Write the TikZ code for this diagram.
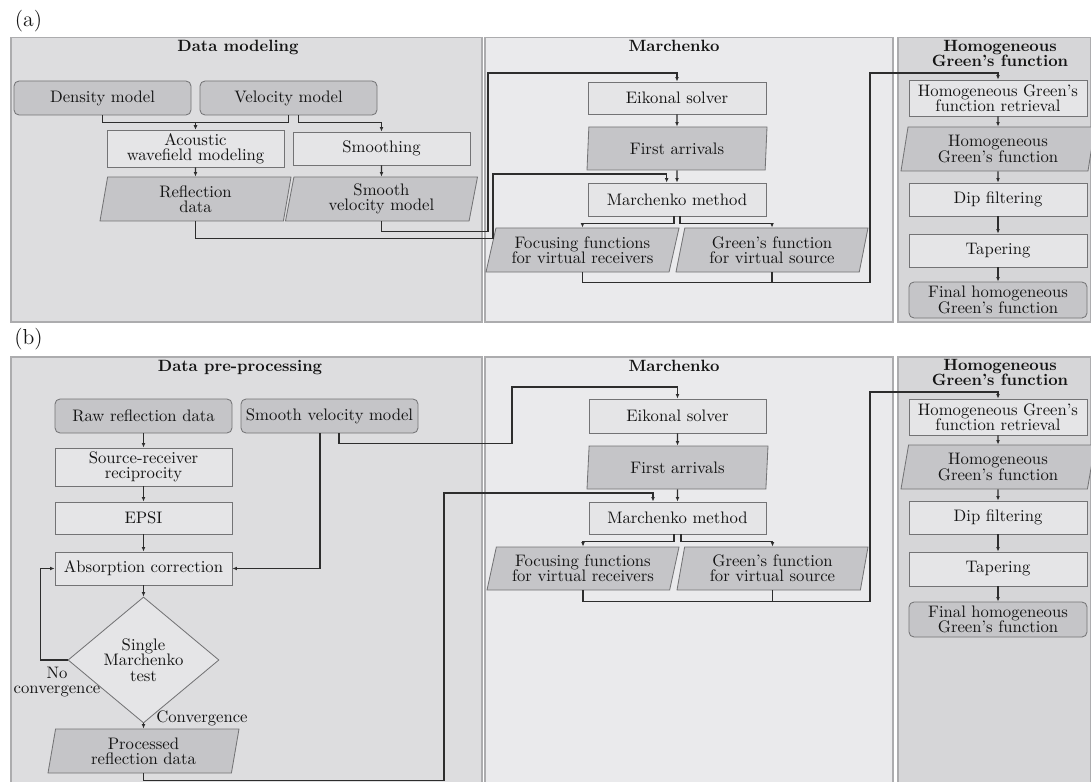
\documentclass[tikz,border=0pt]{standalone}
\usetikzlibrary{shapes.geometric,arrows.meta}
\definecolor{panA}{RGB}{221,221,223}
\definecolor{panB}{RGB}{234,234,236}
\definecolor{panC}{RGB}{214,214,216}
\definecolor{darkbox}{RGB}{197,197,200}
\definecolor{lightbox}{RGB}{229,229,231}
\definecolor{bordc}{RGB}{115,115,117}
\definecolor{panbord}{RGB}{172,172,174}
\definecolor{linec}{RGB}{45,45,45}
\definecolor{txtc}{RGB}{20,20,20}
\begin{document}
\begin{tikzpicture}[x=0.6pt,y=-0.6pt,
  bx/.style={font=\fontsize{10}{9.2}\selectfont, text=txtc, align=center, inner sep=1pt, draw=bordc, line width=0.5pt},
  sz/.style 2 args={minimum width=#1*0.6pt, minimum height=#2*0.6pt},
  procbox/.style={bx, rectangle, fill=lightbox},
  inbox/.style={bx, rectangle, rounded corners=3pt, fill=darkbox},
  databox/.style 2 args={bx, trapezium, trapezium stretches body, trapezium left angle=#1, trapezium right angle=#2, fill=darkbox},
  decbox/.style={bx, diamond, aspect=1.2, fill=lightbox, inner sep=0pt},
  panel/.style={rectangle, draw=panbord, line width=0.9pt, inner sep=0pt, anchor=north west},
  ttl/.style={font=\fontsize{9.8}{9}\selectfont\bfseries, text=txtc, align=center, inner sep=0pt},
  lbl/.style={font=\fontsize{10}{9.2}\selectfont, text=txtc, align=center, inner sep=0pt},
  arr/.style={draw=linec, line width=0.65pt, -{Latex[length=2.7pt,width=2.3pt]}},
  ln/.style={draw=linec, line width=0.65pt}]
\useasboundingbox (0,0) rectangle (1091,782);

% ---------------- (a) ----------------
\node[font=\fontsize{13}{15}\selectfont, text=txtc, inner sep=0pt] (la) at (28.5,21) {(a)};
\node[panel, fill=panA, sz={471}{284}] (pA1) at (10,37) {};
\node[panel, fill=panB, sz={408}{284}] (pA2) at (484,37) {};
\node[panel, fill=panC, sz={193}{284}] (pA3) at (897,37) {};
\node[ttl, anchor=base] (tA1) at (238,52) {Data modeling};
\node[ttl, anchor=base] (tA2) at (674,52) {Marchenko};
\node[ttl] (tA3) at (1000,53) {Homogeneous\\Green's function};

\node[inbox, sz={177}{34}] (dens) at (102.5,98) {Density model};
\node[inbox, sz={177}{34}] (velo) at (288.5,98) {Velocity model};
\node[procbox, sz={177}{37}] (acou) at (195.5,148.5) {Acoustic\\wavefield modeling};
\node[procbox, sz={177}{33}] (smoo) at (381.5,148.5) {Smoothing};
\node[databox={76}{104}, sz={191}{44}] (refl) at (195.5,199) {Reflection\\data};
\node[databox={76}{104}, sz={192}{44}] (svm) at (381.5,199) {Smooth\\velocity model};

\node[procbox, sz={178}{32}] (eik) at (677,98) {Eikonal solver};
\node[databox={83}{97}, sz={180}{43}] (fa) at (677,148.5) {First arrivals};
\node[procbox, sz={178}{33}] (mm) at (677,199.5) {Marchenko method};
\node[databox={72}{108}, sz={193}{44}] (foc) at (582.5,250) {Focusing functions\\for virtual receivers};
\node[databox={74}{106}, sz={192}{44}] (gre) at (772,250) {Green's function\\for virtual source};

\node[procbox, sz={178}{36}] (hret) at (998,98) {Homogeneous Green's\\function retrieval};
\node[databox={77}{103}, sz={194}{44}] (hgf) at (998,149) {Homogeneous\\Green's function};
\node[procbox, sz={178}{33}] (dip) at (998,199.5) {Dip filtering};
\node[procbox, sz={178}{33}] (tap) at (998,250.5) {Tapering};
\node[inbox, sz={178}{36}] (fin) at (998,300) {Final homogeneous\\Green's function};

\draw[arr] (dens.south) -- ++(0,7) -| (acou.north);
\draw[arr] (velo.south) -- ++(0,7) -| (acou.north);
\draw[arr] ([xshift=6pt]velo.south) -- ++(0,7) -| (smoo.north);
\draw[arr] (acou.south) -- (refl.north);
\draw[arr] (smoo.south) -- (svm.north);
\draw[arr] (refl.south) -- ++(0,17) -| (493,174) -| ([xshift=-6.2pt]mm.north);
\draw[arr] (svm.south) -- ++(0,10.5) -| (488,73) -| (eik.north);
\draw[arr] (eik.south) -- (fa.north);
\draw[arr] (fa.south) -- (mm.north);
\draw[arr] ([xshift=-1.8pt]mm.south) -- ++(0,7) -| (foc.north);
\draw[arr] ([xshift=1.8pt]mm.south) -- ++(0,7) -| (gre.north);
\draw[ln] (foc.south) -- ++(0,10) -| (gre.south);
\draw[arr] (gre.south) -- ++(0,10) -| (870,73) -| (hret.north);
\draw[arr] (hret.south) -- (hgf.north);
\draw[arr] (hgf.south) -- (dip.north);
\draw[arr] (dip.south) -- (tap.north);
\draw[arr] (tap.south) -- (fin.north);

% ---------------- (b) ----------------
\node[font=\fontsize{13}{15}\selectfont, text=txtc, inner sep=0pt] (lb) at (28.5,339) {(b)};
\node[panel, fill=panA, sz={471}{440}] (pB1) at (10,356) {};
\node[panel, fill=panB, sz={408}{440}] (pB2) at (484,356) {};
\node[panel, fill=panC, sz={193}{440}] (pB3) at (897,356) {};
\node[ttl, anchor=base] (tB1) at (240,371.5) {Data pre-processing};
\node[ttl, anchor=base] (tB2) at (674,371.5) {Marchenko};
\node[ttl] (tB3) at (1000,372.7) {Homogeneous\\Green's function};

\node[inbox, sz={177}{34}] (raw) at (143.5,416) {Raw reflection data};
\node[inbox, sz={177}{34}] (svm2) at (329.5,416) {Smooth velocity model};
\node[procbox, sz={177}{38}] (srr) at (143.5,467) {Source-receiver\\reciprocity};
\node[procbox, sz={177}{32}] (epsi) at (143.5,518) {EPSI};
\node[procbox, sz={177}{33}] (abs) at (143.5,568.5) {Absorption correction};
\node[decbox, sz={151}{126}] (dia) at (143.5,660) {Single\\Marchenko\\test};
\node[databox={76}{104}, sz={191}{44}] (prd) at (143.5,751) {Processed\\reflection data};
\node[lbl] (lnoc) at (57,682) {No\\convergence};
\node[lbl, anchor=base west] (lconv) at (156,722) {Convergence};

\node[procbox, sz={177}{34}] (eik2) at (677.5,416) {Eikonal solver};
\node[databox={82}{98}, sz={181}{43}] (fa2) at (677.5,467.5) {First arrivals};
\node[procbox, sz={177}{32}] (mm2) at (677.5,518) {Marchenko method};
\node[databox={73}{107}, sz={192}{43}] (foc2) at (583,568.5) {Focusing functions\\for virtual receivers};
\node[databox={76}{104}, sz={191}{43}] (gre2) at (772.5,568.5) {Green's function\\for virtual source};

\node[procbox, sz={178}{36}] (hret2) at (998,417) {Homogeneous Green's\\function retrieval};
\node[databox={76}{104}, sz={194}{44}] (hgf2) at (998,467) {Homogeneous\\Green's function};
\node[procbox, sz={178}{33}] (dip2) at (998,517.5) {Dip filtering};
\node[procbox, sz={178}{34}] (tap2) at (998,569) {Tapering};
\node[inbox, sz={178}{35}] (fin2) at (998,619.5) {Final homogeneous\\Green's function};

\draw[arr] (raw.south) -- (srr.north);
\draw[arr] (srr.south) -- (epsi.north);
\draw[arr] (epsi.south) -- (abs.north);
\draw[arr] (abs.south) -- (dia.north);
\draw[arr] (dia.south) -- (prd.north);
\draw[arr] (dia.west) -- ++(-27,0) |- (abs.west);
\draw[arr] ([xshift=-5.7pt]svm2.south) |- (abs.east);
\draw[arr] ([xshift=5.7pt]svm2.south) -- ++(0,10) -| (512,387) -| (eik2.north);
\draw[arr] (prd.south) -- ++(0,7) -| (444,493) -| ([xshift=-14.7pt]mm2.north);
\draw[arr] (eik2.south) -- (fa2.north);
\draw[arr] (fa2.south) -- (mm2.north);
\draw[arr] ([xshift=-2.1pt]mm2.south) -- ++(0,7) -| (foc2.north);
\draw[arr] ([xshift=2.1pt]mm2.south) -- ++(0,7) -| (gre2.north);
\draw[ln] (foc2.south) -- ++(0,11) -| (gre2.south);
\draw[arr] (gre2.south) -- ++(0,11) -| (870,392) -| (hret2.north);
\draw[arr] (hret2.south) -- (hgf2.north);
\draw[arr] (hgf2.south) -- (dip2.north);
\draw[arr] (dip2.south) -- (tap2.north);
\draw[arr] (tap2.south) -- (fin2.north);
\end{tikzpicture}
\end{document}
